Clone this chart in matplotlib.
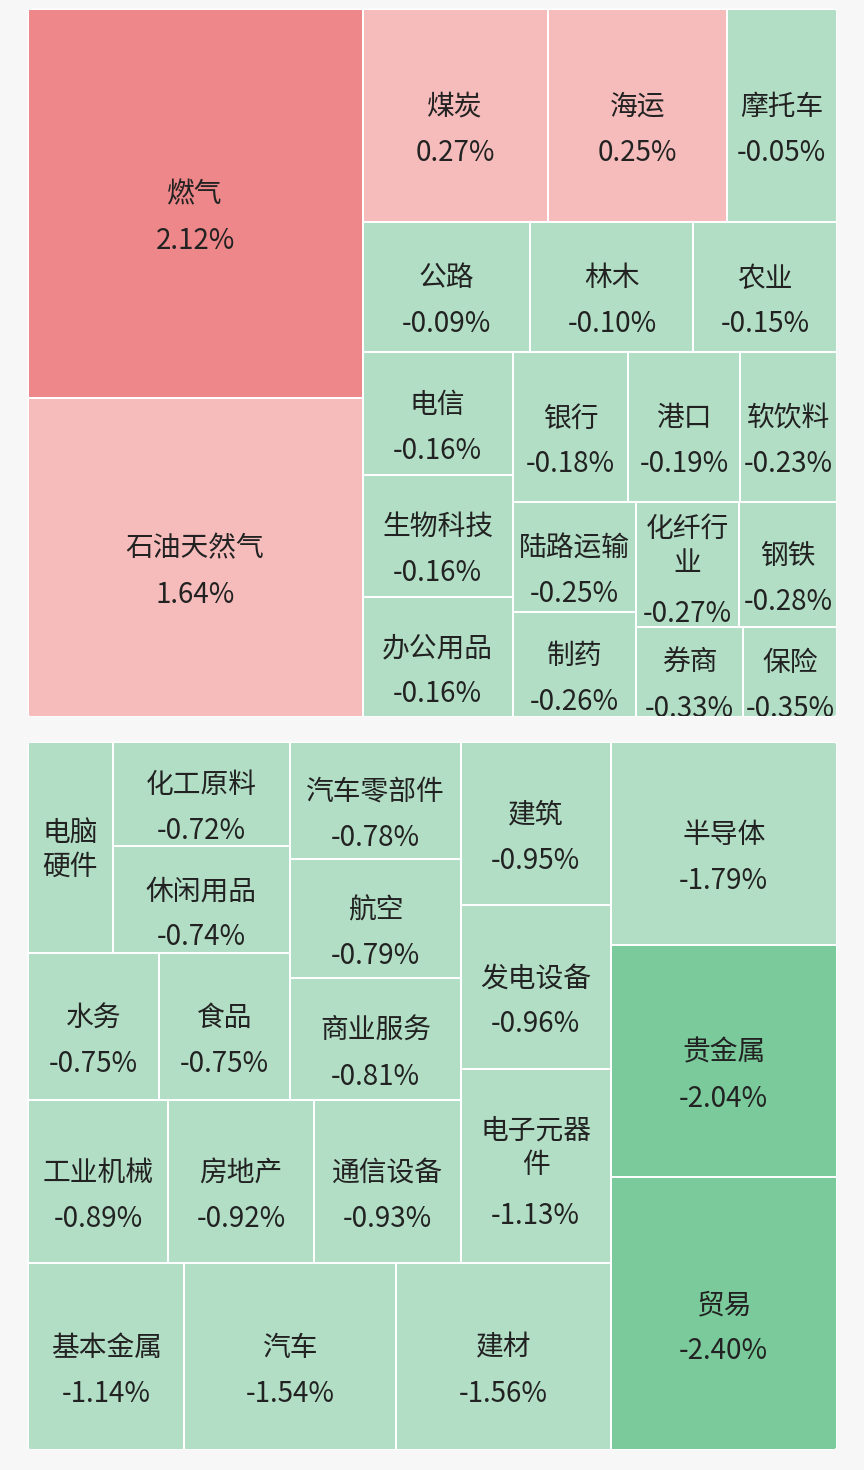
import matplotlib
matplotlib.use('Agg')
import matplotlib.pyplot as plt
from matplotlib.patches import Rectangle, FancyBboxPatch

plt.rcParams['font.family'] = ['Noto Sans CJK SC', 'DejaVu Sans']

# upper block: sectors in layout order, change in %, and cell size
top_names = ['燃气', '石油天然气', '煤炭', '海运', '摩托车', '公路', '林木', '农业',
             '电信', '生物科技', '办公用品', '银行', '港口', '软饮料',
             '陆路运输', '制药', '化纤行业', '钢铁', '券商', '保险']
top_change = [2.12, 1.64, 0.27, 0.25, -0.05, -0.09, -0.10, -0.15,
              -0.16, -0.16, -0.16, -0.18, -0.19, -0.23,
              -0.25, -0.26, -0.27, -0.28, -0.33, -0.35]
top_size = [130.5, 106.9, 39.5, 38.2, 23.5, 21.9, 21.3, 18.7,
            18.4, 18.3, 18.0, 17.3, 16.7, 14.5,
            13.6, 12.9, 12.9, 12.2, 9.7, 8.4]

# lower block (laid out from the bottom right corner)
bottom_names = ['贸易', '贵金属', '半导体', '建材', '汽车', '基本金属', '电子元器件',
                '发电设备', '建筑', '通信设备', '房地产', '工业机械', '商业服务', '航空',
                '汽车零部件', '食品', '水务', '休闲用品', '化工原料', '电脑硬件']
bottom_change = [-2.40, -2.04, -1.79, -1.56, -1.54, -1.14, -1.13, -0.96, -0.95, -0.93,
                 -0.92, -0.89, -0.81, -0.79, -0.78, -0.75, -0.75, -0.74, -0.72, -0.70]
bottom_size = [2.40, 2.04, 1.79, 1.56, 1.54, 1.14, 1.13, 0.96, 0.95, 0.93,
               0.92, 0.89, 0.81, 0.79, 0.78, 0.75, 0.75, 0.74, 0.72, 0.70]

W, H = 864, 1470
FS = 20
FS_PX = FS * 100 / 72
TXT = '#222222'


def colour(v):
    if v >= 2:
        return '#ee8789'
    if v > 0:
        return '#f5bcbb'
    if v > -2:
        return '#b2dec5'
    return '#7bca9b'


def mean_aspect(row, side):
    t = sum(row) / side
    r = 0
    for a in row:
        l = a / t
        r += max(l / t, t / l)
    return r / len(row)


def squarify(sizes, w, h):
    total = float(sum(sizes))
    areas = [s / total * w * h for s in sizes]
    x = y = 0.0
    out = []
    i, n = 0, len(areas)
    while i < n:
        side = min(w, h)
        row = [areas[i]]
        best = mean_aspect(row, side)
        j = i + 1
        while j < n:
            score = mean_aspect(row + [areas[j]], side)
            if score > best:
                break
            row.append(areas[j])
            best = score
            j += 1
        s = sum(row)
        if w <= h:
            t = h if j == n else s / w
            cx = x
            for a in row:
                out.append((cx, y, a / t, t))
                cx += a / t
            y += t
            h -= t
        else:
            t = w if j == n else s / h
            cy = y
            for a in row:
                out.append((x, cy, t, a / t))
                cy += a / t
            x += t
            w -= t
        i = j
    return out


fig = plt.figure(figsize=(W / 100, H / 100), dpi=100, facecolor='#f7f7f7')
ax = fig.add_axes([0, 0, 1, 1])
ax.set_xlim(0, W)
ax.set_ylim(H, 0)
ax.axis('off')
renderer = fig.canvas.get_renderer()


def put(s, x, yc, clip):
    t = ax.text(x, yc + 0.375 * FS_PX, s, ha='center', va='baseline',
                fontsize=FS, color=TXT, clip_on=True)
    t.set_clip_path(clip)


def draw_panel(names, change, size, box, flip):
    px, py, pw, ph = box
    bg = FancyBboxPatch((px, py), pw, ph, boxstyle='round,pad=0,rounding_size=6',
                        fc='white', ec='none')
    ax.add_patch(bg)
    for name, v, (x, y, w, h) in zip(names, change, squarify(size, pw, ph)):
        if flip:
            x, y = pw - x - w, ph - y - h
        x += px
        y += py
        cell = Rectangle((x + 1, y + 1), w - 2, h - 2, fc=colour(v), ec='none')
        ax.add_patch(cell)
        cell.set_clip_path(bg)

        per_line = max(1, int((w - 11.5) // FS_PX))
        lines = [name[k:k + per_line] for k in range(0, len(name), per_line)]
        pct = f'{v:.2f}%'
        probe = ax.text(0, 0, pct, fontsize=FS)
        pct_w = probe.get_window_extent(renderer).width
        probe.remove()
        show = pct_w <= w - 2
        n = len(lines)
        cx, cy = x + w / 2, y + h / 2
        y0 = cy - 11 - 27 * (n - 1) if show else cy - 17 * (n - 1)
        for k, line in enumerate(lines):
            put(line, cx, y0 + 34 * k, cell)
        if show:
            put(pct, cx, y0 + 34 * (n - 1) + 46 + 5 * (n - 1), cell)


draw_panel(top_names, top_change, top_size, (27.7, 8.5, 809, 708.2), False)
draw_panel(bottom_names, bottom_change, bottom_size, (27.7, 741.7, 809, 708.3), True)

fig.savefig('out.png', dpi=100, facecolor=fig.get_facecolor())
